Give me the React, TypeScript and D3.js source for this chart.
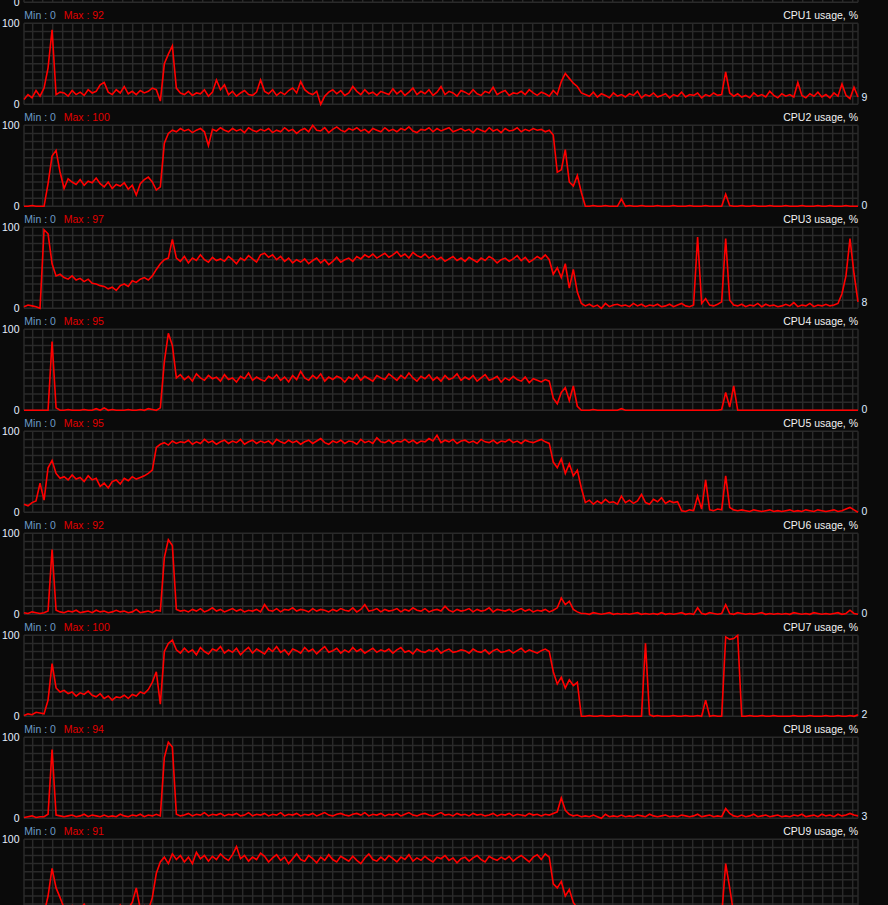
import React from "react";
import * as d3 from "d3";

const W = 888;
const H = 905;
const PLOT_L = 24;
const PLOT_R = 858;
const PANEL_STEP = 102;
const FIRST_TOP = 23.3;
const PLOT_H = 81;

const panelNames = [
  "CPU1 usage, %",
  "CPU2 usage, %",
  "CPU3 usage, %",
  "CPU4 usage, %",
  "CPU5 usage, %",
  "CPU6 usage, %",
  "CPU7 usage, %",
  "CPU8 usage, %",
  "CPU9 usage, %",
];
const minLabels = [0, 0, 0, 0, 0, 0, 0, 0, 0];
const maxLabels = [92, 100, 97, 95, 95, 92, 100, 94, 91];
const axisTicks = [100, 0];

const cpu1 = [6,12,8,17,10,20,45,92,12,15,
14,10,17,12,15,11,18,14,16,24,
27,15,12,18,14,22,13,16,12,17,
14,16,20,18,4,50,62,72,20,14,
12,16,11,14,13,18,10,15,30,18,
24,12,16,10,14,17,12,11,15,30,
16,13,18,11,15,12,17,20,14,28,
18,14,12,16,0,10,15,18,13,17,
11,14,22,16,12,18,13,15,11,16,
14,12,19,13,17,11,15,20,12,16,
13,18,11,15,22,12,16,14,10,17,
15,12,18,13,11,16,14,21,12,15,
17,11,14,13,16,12,18,14,11,15,
13,10,17,12,28,38,32,26,22,14,
12,10,15,9,13,11,8,14,10,12,
9,13,11,16,8,12,10,14,9,11,
13,8,12,10,15,9,12,11,14,8,
12,10,14,11,12,40,14,10,13,9,
11,8,14,10,12,9,16,11,8,13,
10,12,9,27,11,8,13,10,15,9,
12,8,14,10,25,11,7,21,9];

const cpu2 = [0,0,1,0,0,0,28,62,69,42,
22,34,30,27,33,26,31,29,35,28,
24,30,22,27,25,29,21,26,14,28,
33,36,30,20,24,78,90,94,92,96,
93,95,91,94,96,92,75,95,93,97,
94,92,96,93,95,91,97,94,92,95,
93,96,91,94,92,97,93,95,90,94,
96,92,100,94,93,97,91,95,98,94,
92,96,94,97,93,95,91,96,94,92,
97,93,95,92,96,94,98,93,91,95,
94,97,92,96,93,95,97,92,94,96,
93,95,91,96,94,92,97,93,95,91,
96,93,94,97,92,95,93,96,94,95,
92,94,88,42,45,70,30,25,38,17,
0,0,1,0,0,1,0,0,0,9,
0,1,0,0,1,0,0,0,1,0,
0,0,1,0,0,0,1,0,0,0,
1,0,0,0,0,15,1,0,0,1,
0,0,1,0,0,0,1,0,0,0,
1,0,0,0,1,0,0,0,1,0,
0,1,0,0,0,1,0,0,0];

const cpu3 = [2,4,3,2,0,97,92,55,40,42,
38,36,40,35,37,33,36,31,30,28,
27,24,26,22,28,30,27,34,32,36,
38,35,40,48,55,60,62,85,62,58,
64,56,62,59,66,60,57,63,59,61,
58,64,60,55,62,59,65,61,57,66,
68,63,66,60,64,58,62,56,60,57,
61,55,59,62,56,60,54,58,63,57,
60,62,58,64,61,66,63,67,62,65,
68,63,66,70,64,67,62,69,65,63,
67,62,65,60,63,58,61,64,59,62,
58,63,60,57,62,59,64,61,56,60,
62,58,61,65,59,63,57,60,64,61,
66,60,42,50,38,55,25,48,20,6,
3,5,2,4,0,6,2,4,5,3,
4,2,6,3,5,2,4,3,5,2,
3,5,2,4,6,3,2,4,88,6,
12,4,3,5,8,86,10,4,3,5,
2,4,3,6,2,5,3,4,2,3,
5,3,7,2,4,3,6,2,4,3,
5,3,4,6,18,40,86,43,8];

const cpu4 = [0,0,0,0,0,0,0,85,3,0,
0,1,0,0,0,1,0,0,2,0,
3,0,1,0,0,0,1,0,0,1,
0,2,1,0,3,60,95,80,40,44,
38,42,36,45,40,37,43,39,41,36,
44,38,40,35,42,39,46,37,41,38,
36,42,39,44,37,41,35,43,38,48,
40,37,43,39,45,36,41,38,42,40,
35,41,38,44,37,42,39,36,43,40,
38,45,41,37,43,39,46,40,36,42,
39,44,37,41,36,43,38,40,45,37,
41,38,43,36,40,44,37,39,42,35,
40,37,42,38,36,41,34,39,37,35,
38,36,15,8,22,28,12,30,5,0,
0,0,1,0,0,0,0,0,0,2,
0,0,0,0,0,0,0,0,0,0,
0,0,0,0,0,0,0,0,0,0,
0,0,0,0,1,22,4,30,0,0,
0,0,0,0,0,0,0,0,0,0,
0,0,0,0,0,0,0,0,0,0,
0,0,0,0,0,0,0,0,0];

const cpu5 = [10,8,12,14,36,15,55,64,48,42,
44,40,46,41,43,38,45,40,42,32,
36,30,38,40,35,42,39,44,41,43,
45,48,52,80,84,86,83,88,85,87,
86,89,84,87,85,90,86,88,84,87,
89,85,88,86,90,84,87,89,85,88,
86,88,84,90,87,85,89,86,88,84,
87,89,85,88,91,86,84,88,86,89,
85,88,87,84,90,86,88,85,92,87,
86,89,85,88,87,90,86,89,85,88,
87,91,88,95,86,89,87,90,85,88,
89,86,88,85,90,87,86,89,85,88,
87,90,86,88,85,89,87,86,88,90,
87,85,62,55,66,48,60,45,52,30,
12,15,10,14,11,16,12,13,10,20,
12,15,11,14,22,12,10,16,13,18,
11,14,12,13,2,1,3,2,20,4,
40,3,2,4,3,45,6,3,2,3,
2,1,3,2,1,2,3,1,2,1,
2,3,1,2,1,3,2,1,3,2,
1,2,3,1,2,4,6,3,0];

const cpu6 = [2,1,3,2,1,2,4,80,5,3,
2,4,3,5,2,3,4,2,5,3,
4,2,3,5,3,4,2,3,6,2,
3,4,2,5,4,70,92,85,6,4,
5,3,6,4,7,3,5,8,4,6,
3,5,7,4,6,3,5,4,6,3,
12,5,4,7,3,6,5,8,4,6,
5,3,7,4,6,5,3,6,4,7,
5,4,8,3,6,12,4,5,7,3,
6,4,5,7,3,6,4,8,5,4,
7,3,5,6,4,10,5,3,6,4,
5,7,3,6,4,5,8,3,6,5,
4,6,3,5,7,4,6,3,5,4,
6,3,5,8,20,12,16,6,3,1,
1,0,2,1,0,1,2,0,1,0,
1,0,1,2,0,1,0,1,0,2,
0,1,0,1,2,0,1,0,8,1,
0,2,1,0,1,12,1,0,2,1,
0,1,0,1,2,0,1,0,1,0,
1,0,2,1,0,1,0,2,1,0,
1,0,1,2,0,1,5,1,0];

const cpu7 = [1,3,2,5,4,3,20,65,35,30,
32,28,30,25,29,27,31,26,24,28,
22,25,20,24,23,26,22,27,25,30,
28,33,42,55,15,80,90,94,82,78,
84,79,82,76,85,80,77,83,81,86,
78,82,79,84,76,81,85,78,83,80,
77,84,80,86,79,82,76,83,81,78,
85,80,83,77,82,86,79,81,84,78,
82,79,85,80,83,78,81,84,79,82,
80,83,78,82,85,79,81,77,83,80,
79,82,80,84,78,81,83,79,80,82,
81,78,83,80,79,82,77,81,83,79,
80,82,78,81,84,79,82,80,78,81,
83,80,55,40,48,35,45,38,42,0,
0,1,0,0,1,0,0,1,0,0,
1,0,0,0,0,90,2,0,1,0,
0,0,1,0,0,1,0,0,1,0,
20,0,1,0,0,98,95,96,100,0,
0,1,0,0,1,0,0,1,0,0,
0,0,1,0,0,0,1,0,0,0,
1,0,0,1,0,0,1,0,2];

const cpu8 = [1,2,3,1,2,2,5,85,4,3,
2,3,4,2,3,5,2,4,3,2,
4,2,3,2,5,3,2,4,3,5,
2,4,3,5,3,75,94,88,5,3,
4,6,3,5,4,7,3,5,4,6,
3,5,4,6,3,4,7,3,5,4,
6,3,5,4,7,3,5,4,6,3,
5,4,6,3,5,7,4,3,5,6,
4,3,5,6,4,7,3,5,4,6,
3,5,4,6,3,5,7,4,3,5,
6,4,3,5,7,4,5,3,6,4,
5,3,6,4,5,3,4,6,3,5,
4,6,3,5,4,3,6,4,5,3,
5,4,6,8,25,10,5,3,4,2,
3,2,4,2,0,5,2,3,2,4,
2,3,2,4,3,2,5,3,2,3,
4,2,3,2,4,3,2,3,5,2,
3,4,2,3,2,12,6,3,2,4,
2,3,5,2,3,4,2,3,4,2,
3,2,4,3,5,2,3,4,2,5,
3,4,2,5,3,4,6,4,3];

const cpu9 = [3,5,2,4,6,8,30,64,40,28,
15,12,18,10,14,20,11,16,9,13,
17,10,14,12,19,11,15,22,40,14,
18,12,28,58,72,78,70,82,75,80,
72,78,70,84,76,80,73,79,75,82,
77,74,81,91,76,80,73,78,75,83,
79,72,77,81,74,78,70,76,82,75,
73,80,76,71,78,74,81,75,72,79,
76,73,79,74,70,77,82,75,73,78,
74,80,76,72,78,75,81,73,77,74,
79,75,72,78,76,80,74,77,71,76,
78,73,77,80,75,72,79,76,74,78,
75,79,73,77,80,76,72,78,81,75,
82,78,45,40,48,30,38,22,15,4,
3,2,4,1,3,5,2,0,3,2,
4,2,3,1,5,2,3,4,2,3,
2,4,3,1,2,3,5,2,8,3,
3,5,4,2,6,70,40,8,3,4,
2,3,1,4,2,3,5,2,3,1,
3,2,4,3,1,5,2,3,4,2,
3,1,4,2,3,5,2,4,3];

const series = [cpu1, cpu2, cpu3, cpu4, cpu5, cpu6, cpu7, cpu8, cpu9];

const BG = "#0a0a0a";
const GRID = "#2a2a2a";
const RED = "#ff0000";
const MIN_COLOR = "#6b9ac6";
const MAX_COLOR = "#e00000";
const AXIS_COLOR = "#e4eeff";
const TITLE_COLOR = "#f2f2f2";
const CUR_COLOR = "#dfeaff";

function Grid({ top, bottom }: { top: number; bottom: number }) {
  const y = d3.scaleLinear().domain([0, 10]).range([bottom, top]);
  const vx = d3.range(32.7, PLOT_R - 1, 10);
  return (
    <g stroke={GRID} strokeWidth={1.5}>
      {d3.range(0, 11).map((k) => (
        <line key={"h" + k} x1={PLOT_L} x2={PLOT_R} y1={y(k)} y2={y(k)} />
      ))}
      {[PLOT_L, ...vx, PLOT_R].map((x, i) => (
        <line key={"v" + i} x1={x} x2={x} y1={top} y2={bottom} />
      ))}
    </g>
  );
}

function Panel({ index }: { index: number }) {
  const top = FIRST_TOP + PANEL_STEP * (index - 1);
  const bottom = top + PLOT_H;
  const y = d3.scaleLinear().domain([0, 100]).range([bottom, top]);
  const hasData = index >= 1;
  const data = hasData ? series[index - 1] : [];
  const x = d3.scaleLinear().domain([0, Math.max(1, data.length - 1)]).range([PLOT_L, PLOT_R]);
  const line = d3
    .line<number>()
    .x((_, i) => x(i))
    .y((d) => y(d));
  const last = data.length ? data[data.length - 1] : 0;
  const curY = Math.min(y(last), bottom - 1);
  return (
    <g>
      <Grid top={top} bottom={bottom} />
      {axisTicks.map((t) => (
        <text key={t} x={19.5} y={y(t) + 3.8} textAnchor="end" fill={AXIS_COLOR}>
          {t}
        </text>
      ))}
      {hasData && (
        <g>
          <text x={24.3} y={top - 4.8} fill={MIN_COLOR}>
            {"Min : " + minLabels[index - 1]}
          </text>
          <text x={63.7} y={top - 4.8} fill={MAX_COLOR}>
            {"Max : " + maxLabels[index - 1]}
          </text>
          <text x={PLOT_R} y={top - 4.8} textAnchor="end" fill={TITLE_COLOR}>
            {panelNames[index - 1]}
          </text>
          <path d={line(data) || ""} fill="none" stroke={RED} strokeWidth={1.6} strokeLinejoin="miter" />
          <text x={861.5} y={curY + 3.8} fill={CUR_COLOR}>
            {last}
          </text>
        </g>
      )}
    </g>
  );
}

export default function App() {
  return (
    <div style={{ position: "fixed", left: 0, top: 0, width: W, height: H, background: BG, overflow: "hidden" }}>
      <svg
        width={W}
        height={H}
        style={{ display: "block" }}
        fontFamily="'Liberation Sans', Arial, sans-serif"
        fontSize={10.5}
      >
        <rect width={W} height={H} fill={BG} />
        {d3.range(0, 10).map((k) => (
          <Panel key={k} index={k} />
        ))}
      </svg>
    </div>
  );
}
